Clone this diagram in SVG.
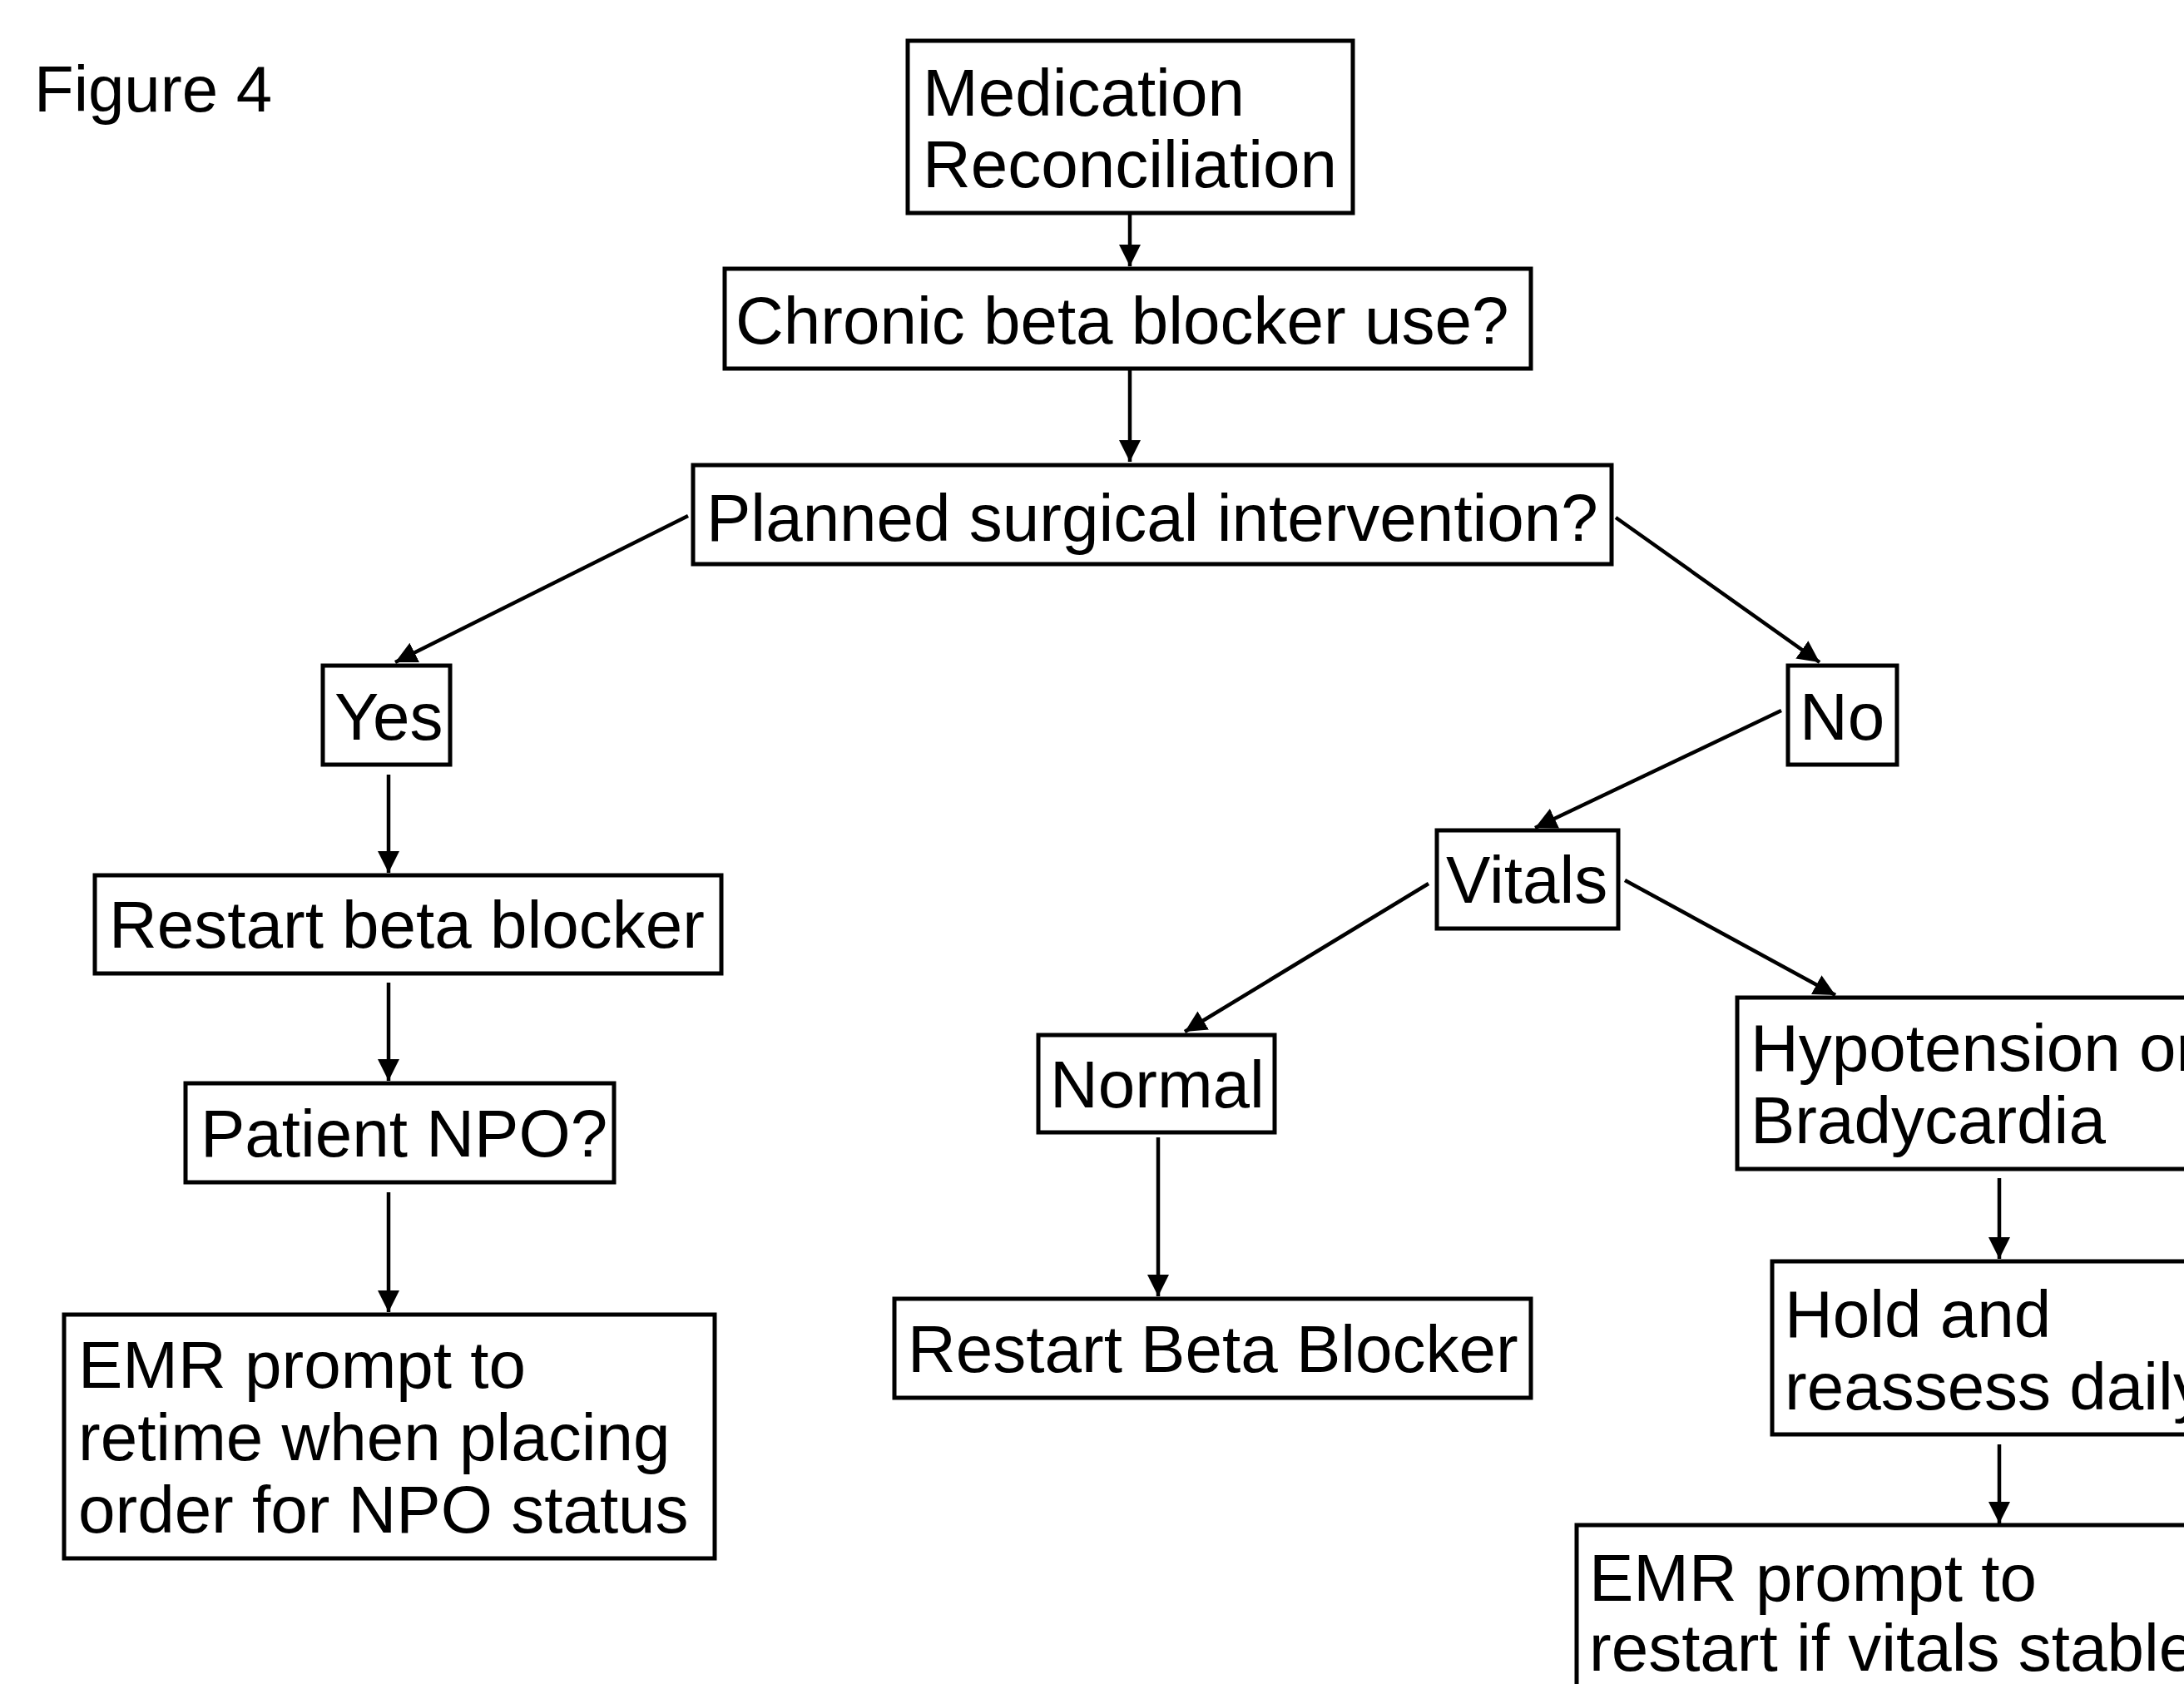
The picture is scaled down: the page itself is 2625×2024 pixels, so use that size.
<svg xmlns="http://www.w3.org/2000/svg" width="2625" height="2024" viewBox="0 0 2625 2024">
<style>
  .box { fill: #ffffff; stroke: #000000; stroke-width: 5; }
  .lbl { font-family: "Liberation Sans", Arial, Helvetica, sans-serif; font-size: 80px; fill: #000000; }
  .edge { stroke: #000000; stroke-width: 4.5; fill: none; marker-end: url(#arrow); }
</style>
<defs>
  <marker id="arrow" markerUnits="userSpaceOnUse" markerWidth="28" markerHeight="28" refX="26" refY="13" orient="auto" viewBox="0 0 28 28">
    <path d="M0,0 L26,13 L0,26 Z" fill="#000000"/>
  </marker>
</defs>
<rect x="0" y="0" width="2625" height="2024" fill="#ffffff"/>
<text class="lbl" x="41" y="134" style="font-size:78px">Figure 4</text>

<g id="connectors">
  <line class="edge" x1="1358" y1="252" x2="1358" y2="320"/>
  <line class="edge" x1="1358" y1="440" x2="1358" y2="555"/>
  <line class="edge" x1="827" y1="620" x2="475" y2="796"/>
  <line class="edge" x1="1942" y1="622" x2="2187" y2="796"/>
  <line class="edge" x1="467" y1="931" x2="467" y2="1049"/>
  <line class="edge" x1="467" y1="1181" x2="467" y2="1299"/>
  <line class="edge" x1="467" y1="1433" x2="467" y2="1577"/>
  <line class="edge" x1="2141" y1="854" x2="1845" y2="995"/>
  <line class="edge" x1="1717" y1="1062" x2="1424" y2="1240"/>
  <line class="edge" x1="1953" y1="1058" x2="2206" y2="1196"/>
  <line class="edge" x1="1392" y1="1367" x2="1392" y2="1558"/>
  <line class="edge" x1="2403" y1="1416" x2="2403" y2="1513"/>
  <line class="edge" x1="2403" y1="1736" x2="2403" y2="1831"/>
</g>

<g id="node-medication">
  <rect class="box" x="1091" y="49" width="535" height="207"/>
  <text class="lbl" x="1109" y="139">Medication</text>
  <text class="lbl" x="1109" y="225">Reconciliation</text>
</g>
<g id="node-chronic">
  <rect class="box" x="871" y="323" width="969" height="120"/>
  <text class="lbl" x="884" y="413">Chronic beta blocker use?</text>
</g>
<g id="node-planned">
  <rect class="box" x="833" y="559" width="1104" height="119"/>
  <text class="lbl" x="849" y="650">Planned surgical intervention?</text>
</g>
<g id="node-yes">
  <rect class="box" x="388" y="800" width="153" height="119"/>
  <text class="lbl" x="402" y="889">Yes</text>
</g>
<g id="node-no">
  <rect class="box" x="2149" y="800" width="131" height="119"/>
  <text class="lbl" x="2163" y="889">No</text>
</g>
<g id="node-restart">
  <rect class="box" x="114" y="1052" width="753" height="118"/>
  <text class="lbl" x="131" y="1139">Restart beta blocker</text>
</g>
<g id="node-npo">
  <rect class="box" x="223" y="1302" width="515" height="119"/>
  <text class="lbl" x="241" y="1390">Patient NPO?</text>
</g>
<g id="node-emr-retime">
  <rect class="box" x="77" y="1580" width="782" height="293"/>
  <text class="lbl" x="94" y="1668">EMR prompt to</text>
  <text class="lbl" x="94" y="1755">retime when placing</text>
  <text class="lbl" x="94" y="1842">order for NPO status</text>
</g>
<g id="node-vitals">
  <rect class="box" x="1727" y="998" width="218" height="118"/>
  <text class="lbl" x="1738" y="1085">Vitals</text>
</g>
<g id="node-normal">
  <rect class="box" x="1248" y="1244" width="284" height="117"/>
  <text class="lbl" x="1262" y="1331">Normal</text>
</g>
<g id="node-restart-bb">
  <rect class="box" x="1075" y="1561" width="765" height="119"/>
  <text class="lbl" x="1091" y="1649">Restart Beta Blocker</text>
</g>
<g id="node-hypotension">
  <rect class="box" x="2088" y="1199" width="700" height="206"/>
  <text class="lbl" x="2104" y="1287">Hypotension or</text>
  <text class="lbl" x="2104" y="1374">Bradycardia</text>
</g>
<g id="node-hold">
  <rect class="box" x="2130" y="1516" width="700" height="208"/>
  <text class="lbl" x="2145" y="1607">Hold and</text>
  <text class="lbl" x="2145" y="1694">reassess daily</text>
</g>
<g id="node-emr-restart">
  <rect class="box" x="1895" y="1833" width="900" height="400"/>
  <text class="lbl" x="1910" y="1924">EMR prompt to</text>
  <text class="lbl" x="1910" y="2008">restart if vitals stable</text>
</g>
</svg>
